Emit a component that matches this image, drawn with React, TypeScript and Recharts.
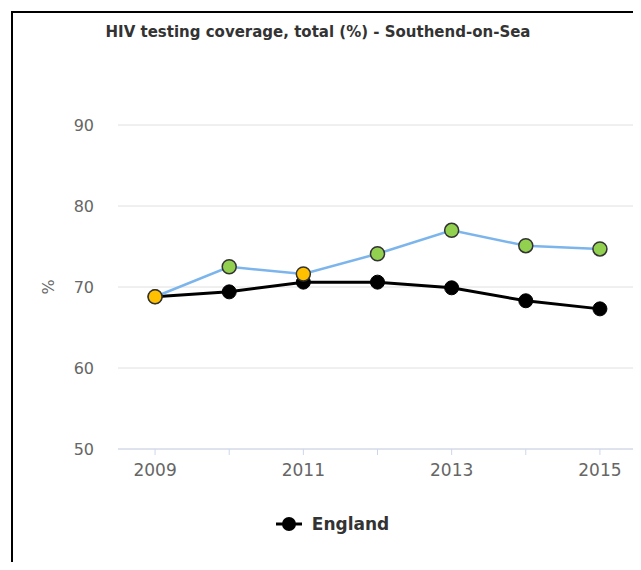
import React from 'react';
import { LineChart, Line, XAxis, YAxis, CartesianGrid, Legend } from 'recharts';

const years = [2009, 2010, 2011, 2012, 2013, 2014, 2015];
const southend = [68.8, 72.5, 71.6, 74.1, 77.0, 75.1, 74.7];
const england = [68.8, 69.4, 70.6, 70.6, 69.9, 68.3, 67.3];
// compared with England: 'similar' (amber) or 'better' (green)
const southendCompare = ['similar', 'better', 'similar', 'better', 'better', 'better', 'better'];
const yTicks = [50, 60, 70, 80, 90];
const xTicks = [2009, 2010, 2011, 2012, 2013, 2014, 2015];
const labelledYears = [2009, 2011, 2013, 2015];

const compareColors: Record<string, string> = {
  similar: '#ffc000',
  better: '#92d050',
};

const data = years.map((year, i) => ({
  year,
  southend: southend[i],
  england: england[i],
  compare: southendCompare[i],
}));

const FONT = '"DejaVu Sans", sans-serif';

const SouthendDot = (props: any) => {
  const { cx, cy, payload, index } = props;
  if (cx == null || cy == null) return null;
  return (
    <circle
      key={`dot-${index}`}
      cx={cx}
      cy={cy}
      r={7}
      fill={compareColors[payload.compare]}
      stroke="#333"
      strokeWidth={1.5}
    />
  );
};

const renderLegend = (props: any) => {
  const items = (props.payload || []).filter((p: any) => p.type !== 'none');
  return (
    <div style={{ display: 'flex', justifyContent: 'center', paddingLeft: 24, height: 24, alignItems: 'center' }}>
      {items.map((item: any) => (
        <div key={item.value} style={{ display: 'flex', alignItems: 'center' }}>
          <svg width={26} height={16}>
            <line x1={0} y1={8} x2={26} y2={8} stroke="#000" strokeWidth={3} />
            <circle cx={13} cy={8} r={7} fill="#000" />
          </svg>
          <span style={{ marginLeft: 10, fontFamily: FONT, fontWeight: 'bold', fontSize: 17, color: '#333' }}>
            {item.value}
          </span>
        </div>
      ))}
    </div>
  );
};

const YLabel = (props: any) => {
  const { viewBox } = props;
  const x = viewBox.x + 18;
  const y = viewBox.y + viewBox.height / 2;
  return (
    <text x={x} y={y} transform={`rotate(-90 ${x} ${y})`} textAnchor="middle" dominantBaseline="central"
      fill="#666" fontSize={16} fontFamily={FONT}>
      %
    </text>
  );
};

export default function App() {
  return (
    <div style={{ position: 'relative', width: 641, height: 570, margin: -8, overflow: 'hidden', background: '#fff' }}>
      <div style={{ position: 'absolute', left: 11, top: 11, width: 800, height: 800, border: '2px solid #000', boxSizing: 'border-box' }} />
      <div style={{ position: 'absolute', left: 0, top: 23, width: 636, textAlign: 'center', fontFamily: FONT, fontWeight: 'bold', fontSize: 15, color: '#333' }}>
        HIV testing coverage, total (%) - Southend-on-Sea
      </div>
      <div style={{ position: 'absolute', left: 0, top: 0 }}>
        <LineChart width={641} height={570} data={data} margin={{ top: 125, right: 4, bottom: 34, left: 30 }}>
          <CartesianGrid horizontal vertical={false} stroke="#e0e0e0" />
          <XAxis
            dataKey="year"
            type="number"
            domain={[2008.5, 2015.5]}
            ticks={xTicks}
            tickFormatter={(v: number) => (labelledYears.includes(v) ? String(v) : '')}
            height={63}
            stroke="#ccd6eb"
            tickSize={6}
            tickMargin={9}
            tick={{ fill: '#666', fontSize: 17, fontFamily: FONT }}
          />
          <YAxis
            domain={[50, 90]}
            ticks={yTicks}
            width={88}
            axisLine={false}
            tickLine={false}
            tickSize={0}
            tickMargin={24}
            tick={{ fill: '#666', fontSize: 16, fontFamily: FONT }}
            label={<YLabel />}
          />
          <Legend verticalAlign="bottom" content={renderLegend} wrapperStyle={{ left: 0, width: 641 }} />
          <Line
            dataKey="england"
            name="England"
            stroke="#000"
            strokeWidth={3}
            dot={{ r: 7, fill: '#000', stroke: '#000', strokeWidth: 1 }}
            isAnimationActive={false}
          />
          <Line
            dataKey="southend"
            name="Southend-on-Sea"
            stroke="#7cb5ec"
            strokeWidth={2.5}
            dot={<SouthendDot />}
            legendType="none"
            isAnimationActive={false}
          />
        </LineChart>
      </div>
    </div>
  );
}
